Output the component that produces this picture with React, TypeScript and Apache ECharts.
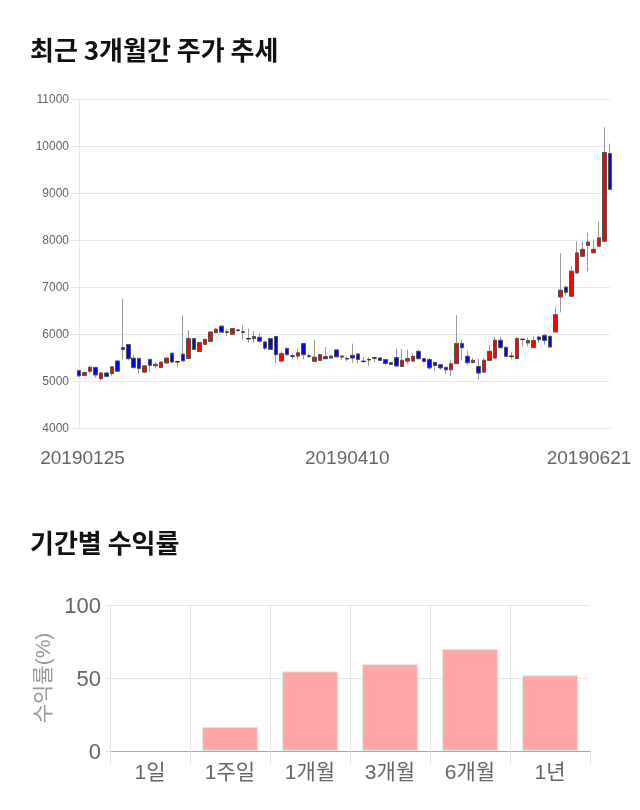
import React, { useEffect, useRef } from 'react';
import * as echarts from 'echarts';

// Daily candles (KRW): open, close, low, high
const opens = [
  5220, 5120, 5210, 5285, 5050, 5170, 5160, 5425, 5710, 5775,
  5485, 5480, 5190, 5460, 5325, 5290, 5385, 5590, 5410, 5570,
  5480, 5900, 5630, 5780, 5845, 6030, 6165, 6040, 5995, 6080,
  6040, 5900, 5900, 5930, 5830, 5900, 5945, 5425, 5690, 5530,
  5530, 5795, 5530, 5420, 5440, 5515, 5490, 5660, 5530, 5475,
  5545, 5575, 5418, 5453, 5490, 5490, 5455, 5390, 5500, 5310,
  5425, 5425, 5630, 5475, 5455, 5395, 5345, 5290, 5240, 5370,
  5795, 5525, 5395, 5310, 5190, 5440, 5490, 5865, 5715, 5525,
  5480, 5885, 5810, 5715, 5935, 5970, 5950, 6045, 6790, 6995,
  6805, 7300, 7655, 7885, 7730, 7870, 7975, 9840,
];
const closes = [
  5110, 5180, 5290, 5130, 5170, 5100, 5300, 5210, 5670, 5475,
  5285, 5270, 5320, 5335, 5355, 5400, 5485, 5405, 5410, 5430,
  5905, 5675, 5815, 5885, 6040, 6100, 6040, 6040, 6115, 6080,
  6040, 5900, 5945, 5850, 5700, 5675, 5560, 5580, 5560, 5530,
  5600, 5560, 5530, 5505, 5560, 5475, 5530, 5515, 5510, 5475,
  5490, 5460, 5418, 5453, 5490, 5440, 5375, 5355, 5320, 5440,
  5475, 5525, 5475, 5415, 5280, 5330, 5280, 5240, 5365, 5795,
  5710, 5390, 5440, 5170, 5440, 5630, 5865, 5710, 5525, 5525,
  5900, 5885, 5860, 5860, 5880, 5865, 5725, 6410, 6930, 6890,
  7335, 7725, 7800, 7955, 7800, 8045, 9860, 9080,
];
const lows = [
  5090, 5110, 5160, 5070, 5010, 5090, 5110, 5200, 5460, 5440,
  5270, 5160, 5180, 5200, 5260, 5270, 5370, 5390, 5300, 5410,
  5470, 5660, 5620, 5770, 5835, 6020, 6030, 5960, 5990, 6050,
  5885, 5815, 5815, 5815, 5660, 5660, 5370, 5410, 5540, 5460,
  5460, 5460, 5490, 5410, 5430, 5460, 5480, 5510, 5440, 5420,
  5390, 5370, 5390, 5320, 5400, 5425, 5330, 5340, 5300, 5295,
  5355, 5410, 5460, 5400, 5240, 5225, 5240, 5140, 5100, 5360,
  5440, 5330, 5365, 5035, 5180, 5430, 5480, 5700, 5510, 5455,
  5470, 5730, 5735, 5710, 5820, 5775, 5715, 6040, 6460, 6820,
  6795, 7290, 7640, 7335, 7720, 7860, 7960, 9060,
];
const highs = [
  5240, 5190, 5330, 5310, 5180, 5180, 5310, 5440, 6750, 5790,
  5560, 5490, 5330, 5470, 5400, 5420, 5510, 5600, 5420, 6400,
  6080, 5910, 5830, 5900, 6060, 6130, 6180, 6110, 6130, 6100,
  6185, 6115, 6060, 6005, 5850, 5910, 5960, 5630, 5720, 5580,
  5690, 5810, 5580, 5865, 5580, 5720, 5545, 5670, 5540, 5525,
  5795, 5590, 5510, 5510, 5510, 5510, 5470, 5400, 5690, 5675,
  5665, 5595, 5665, 5490, 5490, 5410, 5360, 5300, 5440, 6400,
  5880, 5650, 5495, 5475, 5490, 5760, 5935, 5935, 5735, 5610,
  5935, 5895, 5915, 5950, 5965, 6000, 5960, 6575, 7725, 7030,
  7445, 7975, 7955, 8155, 8010, 8380, 10400, 10050,
];

// Date labels shown on the price chart and the candle index they sit under
const xTickIndex = [0, 49, 97];
const xTickLabels = ['20190125', '20190410', '20190621'];

// Price axis
const priceMin = 4000;
const priceMax = 11000;
const priceStep = 1000;

// Period returns (%)
const periods = ['1일', '1주일', '1개월', '3개월', '6개월', '1년'];
const returns = [0, 16.4, 54.5, 59.5, 69.8, 51.8];
const returnMin = 0;
const returnMax = 100;
const returnStep = 50;

export default function App() {
  const ref = useRef<HTMLDivElement>(null);
  useEffect(() => {
    const chart = echarts.init(ref.current as HTMLDivElement, undefined, { renderer: 'svg' });
    const cats = opens.map((_, i) => String(i));
    const full = opens.map((o, i) => [o, closes[i], lows[i], highs[i]]);
    const bodies = opens.map((o, i) => [o, closes[i], Math.min(o, closes[i]), Math.max(o, closes[i])]);
    const barData = returns.map((v) => (v === 0 ? { value: v, itemStyle: { borderWidth: 0 } } : v));
    const num = '"Liberation Sans", Arial, sans-serif';
    const kr = '"Liberation Sans", "Noto Sans CJK KR", sans-serif';
    const titleFont = { fontSize: 26, fontWeight: 'bold', color: '#111', fontFamily: '"Noto Sans CJK KR", sans-serif' };
    const dateStyle = { fontSize: 19, color: '#666', fontFamily: num };

    chart.setOption({
      animation: false,
      title: [
        { text: '최근 3개월간 주가 추세', left: 30, top: 35, padding: 0, textStyle: titleFont },
        { text: '기간별 수익률', left: 30, top: 528, padding: 0, textStyle: titleFont },
      ],
      grid: [
        { left: 79, right: 30, top: 99, bottom: 382 },
        { left: 110, right: 50, top: 605, bottom: 59 },
      ],
      xAxis: [
        {
          type: 'category',
          gridIndex: 0,
          data: cats,
          boundaryGap: false,
          axisLine: { show: true, lineStyle: { color: '#e6e6e6' } },
          axisTick: { show: false },
          splitLine: { show: false },
          axisLabel: {
            interval: (i: number) => xTickIndex.includes(i),
            margin: 20,
            formatter: (_v: string, i: number) => {
              const k = xTickIndex.indexOf(i);
              if (k < 0) return '';
              const s = k === 0 ? 'first' : k === xTickIndex.length - 1 ? 'last' : 'mid';
              return `{${s}|${xTickLabels[k]}}`;
            },
            rich: {
              first: { ...dateStyle, padding: [0, 0, 0, 7] },
              mid: { ...dateStyle },
              last: { ...dateStyle, padding: [0, 42, 0, 0] },
            },
          },
        },
        {
          type: 'category',
          gridIndex: 1,
          data: periods,
          boundaryGap: true,
          axisLine: { show: true, lineStyle: { color: '#aaa' } },
          axisTick: { show: true, length: 13, interval: 0, lineStyle: { color: '#e2e2e2' } },
          splitLine: { show: true, interval: 0, showMaxLine: false, lineStyle: { color: '#e6e6e6' } },
          axisLabel: { fontSize: 21, color: '#666', margin: 10, fontFamily: kr, interval: 0 },
        },
      ],
      yAxis: [
        {
          type: 'value',
          gridIndex: 0,
          min: priceMin,
          max: priceMax,
          interval: priceStep,
          axisLine: { show: true, lineStyle: { color: '#e6e6e6' } },
          axisTick: { show: true, length: 8, lineStyle: { color: '#e6e6e6' } },
          splitLine: { show: true, lineStyle: { color: '#e9e9e9' } },
          axisLabel: { fontSize: 12, color: '#666', margin: 10, fontFamily: num, formatter: (v: number) => String(v) },
        },
        {
          type: 'value',
          gridIndex: 1,
          min: returnMin,
          max: returnMax,
          interval: returnStep,
          name: '수익률(%)',
          nameLocation: 'middle',
          nameRotate: 90,
          nameGap: 46,
          nameTextStyle: { fontSize: 21, color: '#999', fontFamily: kr },
          axisLine: { show: true, lineStyle: { color: '#e2e2e2' } },
          axisTick: { show: true, length: 4, lineStyle: { color: '#e2e2e2' } },
          splitLine: { show: true, lineStyle: { color: '#e6e6e6' } },
          axisLabel: { fontSize: 22, color: '#666', margin: 9, fontFamily: num },
        },
      ],
      series: [
        {
          name: 'wick',
          type: 'candlestick',
          xAxisIndex: 0,
          yAxisIndex: 0,
          data: full,
          barWidth: 4,
          clip: true,
          itemStyle: {
            color: '#ff0000',
            color0: '#0000ff',
            borderColor: '#9a9a9a',
            borderColor0: '#9a9a9a',
            borderColorDoji: '#9a9a9a',
            borderWidth: 1,
          },
        },
        {
          name: 'body',
          type: 'candlestick',
          xAxisIndex: 0,
          yAxisIndex: 0,
          data: bodies,
          barWidth: 4,
          clip: true,
          itemStyle: {
            color: '#ff0000',
            color0: '#0000ff',
            borderColor: '#555',
            borderColor0: '#555',
            borderColorDoji: '#222',
            borderWidth: 1,
          },
        },
        {
          name: 'returns',
          type: 'bar',
          xAxisIndex: 1,
          yAxisIndex: 1,
          data: barData,
          barWidth: '70%',
          itemStyle: { color: '#ffa6a6', borderColor: '#e4e4e4', borderWidth: 1 },
        },
      ],
    });
    return () => chart.dispose();
  }, []);
  return <div ref={ref} style={{ position: 'fixed', left: 0, top: 0, width: 640, height: 810 }} />;
}
